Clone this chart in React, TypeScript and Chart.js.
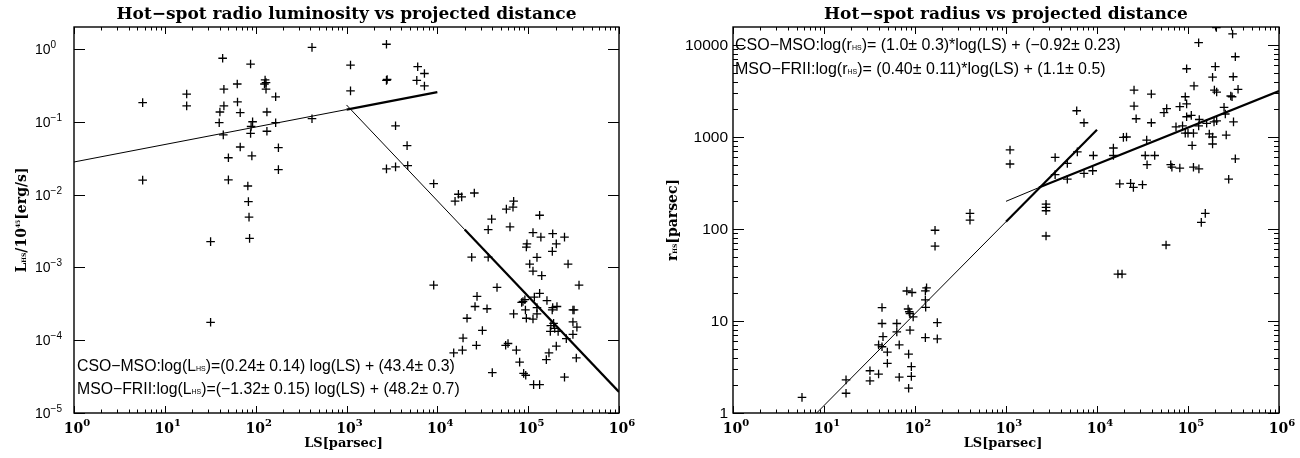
import React, { useEffect, useRef } from 'react';
import { Chart, registerables } from 'chart.js';

Chart.register(...registerables);

// ---------------- Left panel: hot-spot luminosity vs projected distance ----------------
const lumLS = [
  5.7, 5.7, 17.4, 17.4, 43.3, 44.7, 44.7, 40.4, 39.7, 44.0, 50.1, 50.1, 62.7, 63.1, 67.6, 67.6,
  87.9, 92.5, 89.1, 87.9, 90.8, 82.0, 83.2, 84.5, 85.7, 31.9, 31.9, 127, 130, 125, 130, 133,
  133, 166, 166, 178, 178, 417, 417, 1107, 1107, 2754, 2754, 2800, 6080, 7210, 5940, 7210,
  3467, 4645, 2754, 3467, 4720, 9120, 17060, 18540, 15670, 25530, 39630, 36310, 69180, 68080,
  57540, 63100, 133700, 113000, 138000, 186200, 251200, 97000, 95500, 204000, 184500, 125000,
  104000, 113000, 141000, 275000, 23900, 36300, 9120, 45400, 363000, 27350, 26000, 35240,
  21230, 31330, 19190, 26920, 18880, 15140, 40270, 56490, 60000, 74130, 80540, 89130, 94000,
  114800, 133700, 251200, 87700, 84800, 92000, 93300, 69180, 95500, 113000, 117000, 133700,
  161000, 125000, 125000, 186200, 207500, 184000, 190500, 177800, 196000, 175400, 213800,
  311000, 320000, 311000, 344000, 311000, 263000, 204000, 169400, 158500, 338800,
];
const lumVal = [
  0.183, 0.0158, 0.24, 0.165, 0.745, 0.28, 0.165, 0.136, 0.097, 0.066, 0.032, 0.0159, 0.33,
  0.187, 0.133, 0.045, 0.62, 0.10, 0.086, 0.069, 0.034, 0.0131, 0.008, 0.0049, 0.0025, 0.00226,
  0.000176, 0.375, 0.345, 0.33, 0.28, 0.136, 0.074, 0.22, 0.097, 0.044, 0.022, 1.05, 0.11, 0.60,
  0.265, 1.16, 0.37, 0.38, 0.57, 0.46, 0.37, 0.31, 0.088, 0.047, 0.0225, 0.024, 0.025, 0.0141,
  0.0101, 0.0093, 0.0081, 0.0105, 0.0046, 0.0033, 0.0081, 0.0067, 0.0063, 0.0036, 0.0052,
  0.0030, 0.0026, 0.0029, 0.0026, 0.0021, 0.0019, 0.0021, 0.00166, 0.00137, 0.00111, 0.00089,
  0.00077, 0.00111, 0.00138, 0.00138, 0.00057, 0.00053, 0.00057, 0.0004, 0.00029, 0.00027,
  0.0002, 0.000136, 0.000107, 0.000085, 0.000073, 0.000067, 0.0000358, 0.000085, 0.00009,
  0.000073, 0.00005, 0.000035, 0.000033, 0.0000245, 0.0000245, 0.000031, 0.00034, 0.00033,
  0.00036, 0.00026, 0.00023, 0.0002, 0.000195, 0.00039, 0.00044, 0.00035, 0.00028, 0.00023,
  0.00028, 0.00029, 0.00026, 0.00017, 0.000158, 0.000145, 0.000132, 0.000132, 0.00026, 0.00026,
  0.000178, 0.000151, 0.00012, 0.000105, 0.000083, 0.000067, 0.000054, 0.000057,
];
// fit lines: [start, thickness change, end]
const lumCsoLS = [1, 1000, 10000];
const lumCsoVal = [0.028, 0.147, 0.255];
const lumFriiLS = [1000, 20000, 1000000];
const lumFriiVal = [0.17, 0.0033, 0.0000195];

// ---------------- Right panel: hot-spot radius vs projected distance ----------------
const radLS = [
  402, 402, 166, 166, 1107, 1107, 2754, 2754, 2754, 2754, 5984, 7194, 3467, 4720, 3467, 4720,
  6080, 9120, 7194, 8970, 15140, 15140, 19500, 21100, 35160, 33900, 43050, 35500, 64600, 66500,
  81300, 114800, 131800, 17780, 23400, 25120, 31620, 25530, 25530, 26920, 39540, 39540, 58340,
  54450, 81300, 93300, 96600, 116400, 96600, 108700, 133000, 73800, 87100, 93300, 100000,
  114800, 111000, 131000, 160300, 193200, 171400, 186200, 186200, 206500, 248900, 257000,
  263000, 304800, 316200, 331100, 280000, 154900, 140000, 130900, 309000, 331100, 96600,
  199500, 186200, 314000, 195000, 206500, 354800, 295000, 57400, 16980, 18840, 205000,
  5.73, 17.46, 17.46, 32, 32, 39.8, 43.4, 43.4, 44.5, 39.8, 43.4, 49.7, 49.7, 63.1, 63.1, 67.1,
  67.1, 81.3, 92.7, 86.5, 84, 88, 95.5, 88.1, 85.1, 91.2, 91.2, 85.1, 134, 130, 130, 131, 130,
  175.8, 175.8,
];
const radVal = [
  148, 125, 97, 65, 723, 509, 186, 172, 158, 84, 1930, 1430, 600, 517, 390, 348, 690, 630, 403,
  430, 760, 630, 990, 1000, 927, 630, 630, 500, 500, 470, 460, 470, 450, 310, 314, 283, 303,
  3240, 2170, 1580, 2930, 1430, 2040, 1840, 2140, 2740, 2290, 3590, 1660, 1720, 1550, 1290,
  1320, 1100, 1100, 1100, 810, 1320, 1410, 1460, 1080, 1000, 840, 1500, 2100, 1780, 1050, 2740,
  1460, 580, 348, 148, 118, 10600, 13200, 7460, 5520, 5820, 4470, 4520, 3240, 3080, 3300, 2790,
  67, 32.4, 32.4, 15500,
  1.48, 2.29, 1.64, 2.88, 2.24, 2.65, 14, 9.4, 6.76, 5.5, 5.25, 4.6, 3.47, 9.4, 7.6, 5.5, 2.45,
  21.2, 20.4, 12.6, 13.5, 12.0, 11.1, 7.94, 4.37, 3.19, 2.5, 1.86, 22.9, 21.3, 17, 14.1, 6.6,
  9.6, 6.4,
];
const radCsoLS = [8.3, 1000, 10000];
const radCsoVal = [1, 120, 1200];
const radFriiLS = [1000, 2300, 1000000];
const radFriiVal = [200, 282, 3160];

// ---------------- axes ----------------
const xMajorTicks = [1, 10, 100, 1000, 10000, 100000, 1000000];
const xTickExps = ['0', '1', '2', '3', '4', '5', '6'];
const minorMultipliers = [2, 3, 4, 5, 6, 7, 8, 9];
const lumYTicks = [1, 0.1, 0.01, 0.001, 0.0001, 0.00001];
const lumYExps = ['0', '\u22121', '\u22122', '\u22123', '\u22124', '\u22125'];
const radYTicks = [1, 10, 100, 1000, 10000];
const radYLabels = ['1', '10', '100', '1000', '10000'];

type Seg = { t: string; size: number; dy?: number };

const SERIF = '"DejaVu Serif", serif';
const SANS = '"Liberation Sans", Arial, sans-serif';

function drawRich(ctx: CanvasRenderingContext2D, segs: Seg[], x: number, y: number,
  align: 'left' | 'center' | 'right', family: string, bold: boolean) {
  const fonts = segs.map((s) => `${bold ? 'bold ' : ''}${s.size}px ${family}`);
  let w = 0;
  segs.forEach((s, i) => { ctx.font = fonts[i]; w += ctx.measureText(s.t).width; });
  let cx = align === 'left' ? x : align === 'center' ? x - w / 2 : x - w;
  ctx.textAlign = 'left';
  ctx.textBaseline = 'alphabetic';
  segs.forEach((s, i) => {
    ctx.font = fonts[i];
    ctx.fillText(s.t, cx, y + (s.dy ?? 0));
    cx += ctx.measureText(s.t).width;
  });
}

type Panel = {
  width: number;
  padding: { left: number; right: number; top: number; bottom: number };
  yMin: number; yMax: number;
  pointsX: number[]; pointsY: number[];
  fits: { xs: number[]; ys: number[] }[];
  yMinor: boolean;
  yTicks: number[];
  drawYLabel: (ctx: CanvasRenderingContext2D, y: number, i: number) => void;
  title: string;
  yTitle: Seg[];
  yTitleX: number;
  notes: { segs: Seg[]; y: number }[];
  noteX: number;
};

function makeFramePlugin(p: Panel) {
  return {
    id: 'idlFrame',
    afterDatasetsDraw(chart: any) {
      const ctx: CanvasRenderingContext2D = chart.ctx;
      const { left, right, top, bottom } = chart.chartArea;
      const xs = chart.scales.x;
      const ys = chart.scales.y;
      ctx.save();
      ctx.strokeStyle = '#000';
      ctx.fillStyle = '#000';
      ctx.lineWidth = 1.4;
      ctx.strokeRect(left, top, right - left, bottom - top);
      ctx.lineWidth = 1;
      ctx.beginPath();
      xMajorTicks.forEach((v, i) => {
        const x = Math.round(xs.getPixelForValue(v)) + 0.5;
        ctx.moveTo(x, bottom); ctx.lineTo(x, bottom - 7);
        ctx.moveTo(x, top); ctx.lineTo(x, top + 7);
        if (i < xMajorTicks.length - 1) {
          minorMultipliers.forEach((m) => {
            const xm = Math.round(xs.getPixelForValue(v * m)) + 0.5;
            ctx.moveTo(xm, bottom); ctx.lineTo(xm, bottom - 3.5);
            ctx.moveTo(xm, top); ctx.lineTo(xm, top + 3.5);
          });
        }
      });
      p.yTicks.forEach((v) => {
        const y = Math.round(ys.getPixelForValue(v)) + 0.5;
        ctx.moveTo(left, y); ctx.lineTo(left + 11, y);
        ctx.moveTo(right, y); ctx.lineTo(right - 11, y);
        if (p.yMinor) {
          minorMultipliers.forEach((m) => {
            const vv = v * m;
            if (vv > p.yMax) return;
            const ym = Math.round(ys.getPixelForValue(vv)) + 0.5;
            ctx.moveTo(left, ym); ctx.lineTo(left + 5, ym);
            ctx.moveTo(right, ym); ctx.lineTo(right - 5, ym);
          });
        }
      });
      ctx.stroke();

      // x tick labels
      xMajorTicks.forEach((v, i) => {
        const x = xs.getPixelForValue(v);
        drawRich(ctx, [{ t: '10', size: 14 }, { t: xTickExps[i], size: 10, dy: -7 }], x + 3, 433, 'center', SERIF, true);
      });
      // y tick labels
      p.yTicks.forEach((v, i) => p.drawYLabel(ctx, ys.getPixelForValue(v), i));

      // titles
      const cxp = (left + right) / 2;
      drawRich(ctx, [{ t: p.title, size: 17 }], cxp, 19, 'center', SERIF, true);
      drawRich(ctx, [{ t: 'LS[parsec]', size: 13 }], cxp - 3, 447, 'center', SERIF, true);
      ctx.save();
      ctx.translate(p.yTitleX, (top + bottom) / 2);
      ctx.rotate(-Math.PI / 2);
      drawRich(ctx, p.yTitle, 0, 0, 'center', SERIF, true);
      ctx.restore();

      // fit annotations
      p.notes.forEach((n) => drawRich(ctx, n.segs, p.noteX, n.y, 'left', SANS, false));
      ctx.restore();
    },
  };
}

function buildConfig(p: Panel): any {
  const datasets: any[] = [
    {
      data: p.pointsX.map((x, i) => ({ x, y: p.pointsY[i] })),
      pointStyle: 'cross',
      pointRadius: 4.3,
      pointBorderWidth: 1.3,
      borderColor: '#000',
      backgroundColor: '#000',
      showLine: false,
    },
  ];
  p.fits.forEach((f) => {
    datasets.push({
      data: [{ x: f.xs[0], y: f.ys[0] }, { x: f.xs[1], y: f.ys[1] }],
      showLine: true, pointRadius: 0, borderColor: '#000', borderWidth: 1, tension: 0,
    });
    datasets.push({
      data: [{ x: f.xs[1], y: f.ys[1] }, { x: f.xs[2], y: f.ys[2] }],
      showLine: true, pointRadius: 0, borderColor: '#000', borderWidth: 2.2, tension: 0,
    });
  });
  return {
    type: 'scatter',
    data: { datasets },
    options: {
      responsive: false,
      animation: false,
      devicePixelRatio: 1,
      layout: { padding: p.padding },
      plugins: { legend: { display: false }, tooltip: { enabled: false }, title: { display: false } },
      scales: {
        x: { type: 'logarithmic', min: 1, max: 1000000, display: false, bounds: 'data' },
        y: { type: 'logarithmic', min: p.yMin, max: p.yMax, display: false, bounds: 'data' },
      },
    },
    plugins: [makeFramePlugin(p)],
  };
}

const leftPanel: Panel = {
  width: 650,
  padding: { left: 74, right: 31, top: 27, bottom: 45 },
  yMin: 0.00001, yMax: 2,
  pointsX: lumLS, pointsY: lumVal,
  fits: [{ xs: lumCsoLS, ys: lumCsoVal }, { xs: lumFriiLS, ys: lumFriiVal }],
  yMinor: false,
  yTicks: lumYTicks,
  drawYLabel: (ctx, y, i) => {
    drawRich(ctx, [{ t: '10', size: 14 }, { t: lumYExps[i], size: 10, dy: -6 }], 35, y + 5, 'left', SANS, false);
  },
  title: 'Hot\u2212spot radio luminosity vs projected distance',
  yTitle: [
    { t: 'L', size: 14 }, { t: 'HS', size: 6 }, { t: '/10', size: 14 }, { t: '45', size: 6, dy: -6 },
    { t: '[erg/s]', size: 14 },
  ],
  yTitleX: 26,
  notes: [
    { y: 371, segs: [{ t: 'CSO\u2212MSO:log(L', size: 15.8 }, { t: 'HS', size: 7 }, { t: ')=(0.24\u00b1 0.14) log(LS) + (43.4\u00b1 0.3)', size: 15.8 }] },
    { y: 394, segs: [{ t: 'MSO\u2212FRII:log(L', size: 15.8 }, { t: 'HS', size: 7 }, { t: ')=(\u22121.32\u00b1 0.15) log(LS) + (48.2\u00b1 0.7)', size: 15.8 }] },
  ],
  noteX: 77,
};

const rightPanel: Panel = {
  width: 650,
  padding: { left: 83, right: 21, top: 27, bottom: 45 },
  yMin: 1, yMax: 15700,
  pointsX: radLS, pointsY: radVal,
  fits: [{ xs: radCsoLS, ys: radCsoVal }, { xs: radFriiLS, ys: radFriiVal }],
  yMinor: true,
  yTicks: radYTicks,
  drawYLabel: (ctx, y, i) => {
    drawRich(ctx, [{ t: radYLabels[i], size: 15.5 }], 78, y + 5, 'right', SANS, false);
  },
  title: 'Hot\u2212spot radius vs projected distance',
  yTitle: [{ t: 'r', size: 14 }, { t: 'HS', size: 6 }, { t: '[parsec]', size: 14 }],
  yTitleX: 27,
  notes: [
    { y: 50, segs: [{ t: 'CSO\u2212MSO:log(r', size: 16 }, { t: 'HS', size: 7 }, { t: ')= (1.0\u00b1 0.3)*log(LS) + (\u22120.92\u00b1 0.23)', size: 16 }] },
    { y: 74, segs: [{ t: 'MSO\u2212FRII:log(r', size: 16 }, { t: 'HS', size: 7 }, { t: ')= (0.40\u00b1 0.11)*log(LS) + (1.1\u00b1 0.5)', size: 16 }] },
  ],
  noteX: 85,
};

function PanelChart({ panel }: { panel: Panel }) {
  const ref = useRef<HTMLCanvasElement | null>(null);
  useEffect(() => {
    if (!ref.current) return;
    const chart = new Chart(ref.current, buildConfig(panel));
    return () => chart.destroy();
  }, [panel]);
  return <canvas ref={ref} width={panel.width} height={458} style={{ display: 'block', width: panel.width, height: 458 }} />;
}

export default function App() {
  return (
    <div style={{ position: 'fixed', left: 0, top: 0, width: 1300, height: 458, background: '#fff', display: 'flex' }}>
      <PanelChart panel={leftPanel} />
      <PanelChart panel={rightPanel} />
    </div>
  );
}
